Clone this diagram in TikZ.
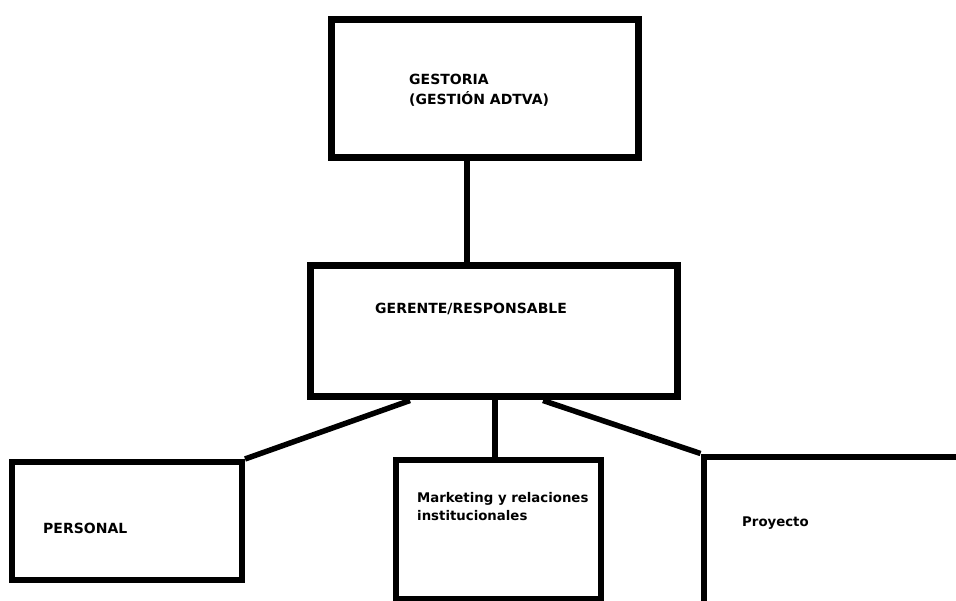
\documentclass[tikz,border=0pt]{standalone}
\usepackage{fontspec}
\setmainfont{DejaVu Sans}
\begin{document}
\begin{tikzpicture}[x=1pt,y=-1pt,
  box/.style={draw,rectangle,inner sep=0pt,line width=7pt},
  lowbox/.style={box,line width=6pt},
  link/.style={line width=6.5pt},
  diag/.style={line width=5.5pt},
  lbl/.style={anchor=base west,inner sep=0pt,font=\bfseries\fontsize{14}{20}\selectfont,align=left},
  slbl/.style={lbl,font=\bfseries\fontsize{13.3}{18}\selectfont}]
\clip (0,0) rectangle (956,601);
\fill[white] (0,0) rectangle (956,601);
% boxes
\node[box,minimum width=307pt,minimum height=138pt] (gest) at (484.5,89) {};
\node[box,minimum width=367pt,minimum height=131pt] (ger) at (493.5,331.5) {};
\node[lowbox,minimum width=230pt,minimum height=118pt] (pers) at (127,521) {};
\node[lowbox,minimum width=205pt,minimum height=139pt] (mkt) at (498.5,529.5) {};
\node[lowbox,minimum width=296.5pt,minimum height=193.5pt] (proy) at (851.75,553.25) {};
% texts (base anchor of a multi-line node is its last line)
\node[lbl] (tgest) at (409,105) {GESTORIA\\(GESTIÓN ADTVA)};
\node[lbl] (tger) at (375,314) {GERENTE/RESPONSABLE};
\node[lbl] (tpers) at (43,533) {PERSONAL};
\node[slbl] (tmkt) at (417,520) {Marketing y relaciones\\institucionales};
\node[slbl] (tproy) at (742,526) {Proyecto};
% connectors
\draw[link] (gest.south -| 467,0) -- (ger.north -| 467,0);
\draw[diag] (pers.north east) -- (ger.south -| 410,0);
\draw[link] (ger.south -| 495,0) -- (mkt.north -| 495,0);
\draw[diag] (ger.south -| 543,0) -- (proy.north west);
\end{tikzpicture}
\end{document}
